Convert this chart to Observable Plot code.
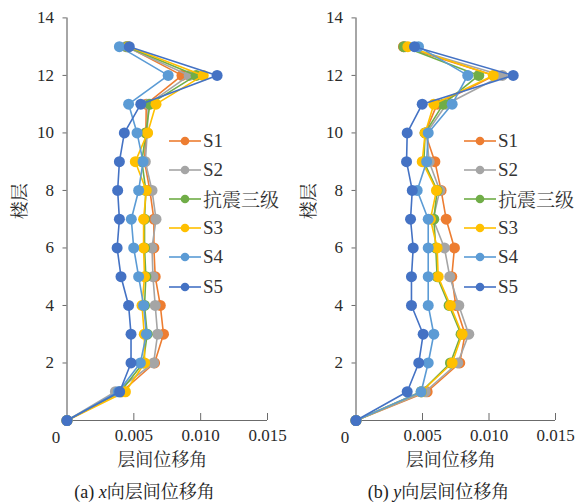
<!DOCTYPE html>
<html>
<head>
<meta charset="utf-8">
<script src="https://cdn.jsdelivr.net/npm/d3@7"></script>
<script src="https://cdn.jsdelivr.net/npm/@observablehq/plot@0.6"></script>
<style>
  body { margin: 0; background: #fff; }
  #wrap { display: flex; width: 588px; height: 504px; }
  .panel { position: relative; }
  .panel svg { display: block; }
  .cap { position: absolute; left: 0; right: 0; text-align: center;
         font-family: "Liberation Serif", "Noto Serif CJK SC", serif; font-size: 18px; color: #222; }
  .legend { position: absolute; font-family: "Liberation Serif", "Noto Serif CJK SC", serif;
            font-size: 19px; color: #333; }
  .legend .row { display: flex; align-items: center; height: 29.2px; }
  .legend svg { margin-right: 2px; }
</style>
</head>
<body>
<div id="wrap"></div>
<script>
// Storey numbers (0 = base)
const floors = [0, 1, 2, 3, 4, 5, 6, 7, 8, 9, 10, 11, 12, 13];
const seriesNames = ["S1", "S2", "抗震三级", "S3", "S4", "S5"];
const seriesColors = ["#ED7D31", "#A5A5A5", "#70AD47", "#FFC000", "#5B9BD5", "#4472C4"];
const xTicks = [0.005, 0.010, 0.015];
const yTicks = [2, 4, 6, 8, 10, 12, 14];

// Inter-storey drift ratio, x direction
const xDirS1 = [0, 0.0041, 0.00655, 0.00722, 0.00698, 0.0066, 0.0065, 0.0065, 0.0062, 0.0058, 0.0059, 0.00593, 0.0086, 0.0045];
const xDirS2 = [0, 0.00362, 0.00648, 0.00678, 0.0066, 0.00643, 0.00636, 0.00666, 0.00636, 0.00586, 0.0060, 0.00608, 0.00914, 0.0044];
const xDirG3 = [0, 0.0040, 0.0057, 0.0060, 0.0058, 0.0059, 0.0058, 0.0058, 0.0059, 0.0056, 0.0059, 0.0062, 0.00966, 0.0045];
const xDirS3 = [0, 0.00437, 0.00581, 0.00578, 0.00561, 0.0058, 0.00573, 0.00573, 0.00593, 0.00511, 0.00603, 0.00666, 0.01019, 0.0046];
const xDirS4 = [0, 0.00384, 0.00549, 0.00594, 0.00573, 0.00536, 0.00499, 0.00481, 0.00536, 0.00569, 0.00524, 0.00461, 0.00757, 0.00392];
const xDirS5 = [0, 0.00394, 0.00479, 0.00479, 0.00461, 0.00404, 0.00375, 0.00392, 0.00379, 0.00392, 0.00429, 0.00552, 0.01123, 0.00466];

// Inter-storey drift ratio, y direction
const yDirS1 = [0, 0.00535, 0.0078, 0.0082, 0.0075, 0.0072, 0.0074, 0.00678, 0.0064, 0.00593, 0.0052, 0.0061, 0.0104, 0.00357];
const yDirS2 = [0, 0.0052, 0.00765, 0.00848, 0.00773, 0.00705, 0.00665, 0.0058, 0.0063, 0.0055, 0.0053, 0.0068, 0.0110, 0.0037];
const yDirG3 = [0, 0.0049, 0.0071, 0.0079, 0.0070, 0.0061, 0.0060, 0.00585, 0.0061, 0.0051, 0.0052, 0.00656, 0.00923, 0.0036];
const yDirS3 = [0, 0.00492, 0.00723, 0.00798, 0.0071, 0.00618, 0.0061, 0.0056, 0.00605, 0.00498, 0.0052, 0.00585, 0.01032, 0.0039];
const yDirS4 = [0, 0.0049, 0.00543, 0.00585, 0.00543, 0.00543, 0.00543, 0.00543, 0.0046, 0.00531, 0.00543, 0.00723, 0.0084, 0.0047];
const yDirS5 = [0, 0.00385, 0.00472, 0.00505, 0.00417, 0.00417, 0.0043, 0.0041, 0.00423, 0.0038, 0.00385, 0.00498, 0.01182, 0.0044];

const axisColor = "#6b6b6b";
const textColor = "#2a2a2a";
const serif = "Liberation Serif, Noto Serif CJK SC, serif";
const cjk = "Noto Serif CJK SC, serif";

function toRows(arrays) {
  const rows = [];
  arrays.forEach((vals, i) => {
    vals.forEach((v, j) => rows.push({series: seriesNames[i], floor: floors[j], drift: v}));
  });
  return rows;
}

function drawPanel({rows, width, marginRight, caption, legendLeft}) {
  const marks = [
    // axis lines
    Plot.ruleY([0], {stroke: axisColor, strokeWidth: 1.2}),
    Plot.ruleX([0], {stroke: axisColor, strokeWidth: 1.2}),
    // x ticks point into the plot
    Plot.axisX({ticks: xTicks, tickSize: 7, dy: -7, fill: "none", stroke: axisColor, label: null}),
    Plot.axisX({ticks: xTicks, tickSize: 0, tickPadding: 8, tickFormat: d3.format(".3f"), label: null,
                fill: textColor, fontSize: 17, fontFamily: serif}),
    Plot.axisY({ticks: yTicks, tickSize: 4, tickPadding: 9, label: null, stroke: axisColor,
                fill: textColor, fontSize: 17, fontFamily: serif}),
    // shared origin label
    Plot.text([0], {x: 0, y: 0, text: () => "0", dx: -11, dy: 17, fill: textColor, fontSize: 17, fontFamily: serif}),
    // axis titles
    Plot.text(["楼层"], {frameAnchor: "left", rotate: -90, dx: -47, fill: textColor, fontSize: 18, fontFamily: cjk}),
    Plot.text(["层间位移角"], {frameAnchor: "bottom", dx: -5, dy: 45, fill: textColor, fontSize: 18, fontFamily: cjk})
  ];
  // each series: line then markers, later series on top
  seriesNames.forEach(name => {
    const d = rows.filter(r => r.series === name);
    marks.push(Plot.line(d, {x: "drift", y: "floor", stroke: "series", strokeWidth: 1.6}));
    marks.push(Plot.dot(d, {x: "drift", y: "floor", fill: "series", r: 5.5}));
  });

  const chart = Plot.plot({
    width, height: 475,
    marginLeft: 66.5, marginRight, marginTop: 17.4, marginBottom: 55,
    x: {domain: [0, 0.015]},
    y: {domain: [0, 14]},
    color: {domain: seriesNames, range: seriesColors},
    style: {overflow: "visible", fontFamily: serif},
    marks
  });

  const panel = document.createElement("div");
  panel.className = "panel";
  panel.style.width = width + "px";
  panel.appendChild(chart);

  const cap = document.createElement("div");
  cap.className = "cap";
  cap.style.top = "477px";
  cap.innerHTML = caption;
  panel.appendChild(cap);

  const legend = document.createElement("div");
  legend.className = "legend";
  legend.style.left = legendLeft + "px";
  legend.style.top = "126px";
  seriesNames.forEach((name, i) => {
    const row = document.createElement("div");
    row.className = "row";
    row.innerHTML = `<svg width="32" height="12"><line x1="0" y1="6" x2="32" y2="6" stroke="${seriesColors[i]}" stroke-width="1.6"/><circle cx="16" cy="6" r="4.3" fill="${seriesColors[i]}"/></svg><span>${name}</span>`;
    legend.appendChild(row);
  });
  panel.appendChild(legend);
  return panel;
}

const wrap = document.getElementById("wrap");
wrap.appendChild(drawPanel({
  rows: toRows([xDirS1, xDirS2, xDirG3, xDirS3, xDirS4, xDirS5]),
  width: 289, marginRight: 22,
  caption: "(a) <i>x</i>向层间位移角",
  legendLeft: 169
}));
wrap.appendChild(drawPanel({
  rows: toRows([yDirS1, yDirS2, yDirG3, yDirS3, yDirS4, yDirS5]),
  width: 299, marginRight: 33,
  caption: "(b) <i>y</i>向层间位移角",
  legendLeft: 175
}));
</script>
</body>
</html>
